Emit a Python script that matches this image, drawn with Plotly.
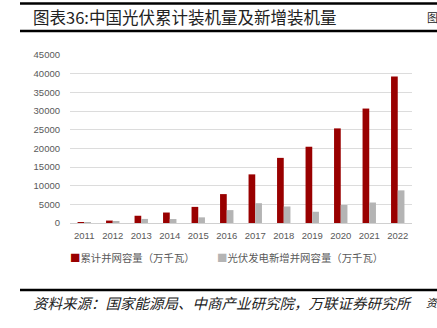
import plotly.graph_objects as go

# 中国光伏累计并网容量与年度新增并网容量（万千瓦）
years = ["2011", "2012", "2013", "2014", "2015", "2016",
         "2017", "2018", "2019", "2020", "2021", "2022"]
cumulative = [222, 650, 1942, 2805, 4318, 7742,
              13025, 17446, 20430, 25343, 30656, 39261]
new_added = [180, 350, 1095, 1060, 1513, 3454,
             5306, 4426, 3011, 4820, 5488, 8741]

y_ticks = [0, 5000, 10000, 15000, 20000, 25000, 30000, 35000, 40000, 45000]

W, H = 437, 328
L, R, T, B = 70, 25, 55, 105
PW, PH = W - L - R, H - T - B

RED = "#990000"
GRAY = "#b4b4b4"
CJK = "Noto Sans CJK SC"


def px(x):
    return (x - L) / PW


def py(y):
    return (H - B - y) / PH


fig = go.Figure()
fig.add_trace(go.Bar(x=years, y=cumulative, name="累计并网容量（万千瓦）",
                     marker=dict(color=RED, line=dict(width=0))))
fig.add_trace(go.Bar(x=years, y=new_added, name="光伏发电新增并网容量（万千瓦）",
                     marker=dict(color=GRAY, line=dict(width=0))))

fig.update_layout(
    width=W, height=H,
    margin=dict(l=L, r=R, t=T, b=B),
    paper_bgcolor="white", plot_bgcolor="white",
    barmode="group", bargap=0.53, bargroupgap=0,
    showlegend=False,
    font=dict(family="Liberation Sans, Arial", color="#595959"),
)
fig.update_xaxes(showgrid=False, showline=False, ticks="",
                 tickfont=dict(size=9.5, color="#595959"),
                 ticklabelstandoff=5)
fig.update_yaxes(range=[0, 45000], tickvals=y_ticks,
                 ticktext=[str(v) for v in y_ticks],
                 showgrid=True, gridcolor="#dcdcdc", gridwidth=1,
                 zeroline=True, zerolinecolor="#d0d0d0", zerolinewidth=1,
                 showline=False, ticks="",
                 tickfont=dict(size=9.5, color="#595959"),
                 ticklabelstandoff=9)

shapes = []
# 标题上下及资料来源上方的粗线
for y0, wdt in [(3.5, 2.5), (31, 2.5), (290, 2.5)]:
    shapes.append(dict(type="line", xref="paper", yref="paper",
                       x0=px(20), x1=px(437), y0=py(y0), y1=py(y0),
                       line=dict(color="black", width=wdt)))
fig.update_layout(shapes=shapes)

ann = []
ann.append(dict(text="图表36:中国光伏累计装机量及新增装机量",
                x=px(31), y=py(17.5), xref="paper", yref="paper",
                xanchor="left", yanchor="middle", showarrow=False,
                font=dict(family=CJK, size=16.5, color="#222222")))
ann.append(dict(text="图", x=px(425), y=py(17.5), xref="paper", yref="paper",
                xanchor="left", yanchor="middle", showarrow=False,
                font=dict(family=CJK, size=11, color="#222222")))
# 图例
ann.append(dict(text=f"<span style='color:{RED}'>■</span>累计并网容量（万千瓦）",
                x=px(68), y=py(257), xref="paper", yref="paper",
                xanchor="left", yanchor="middle", showarrow=False,
                font=dict(family=CJK, size=10.4, color="#595959")))
ann.append(dict(text=f"<span style='color:{GRAY}'>■</span>光伏发电新增并网容量（万千瓦）",
                x=px(215), y=py(257), xref="paper", yref="paper",
                xanchor="left", yanchor="middle", showarrow=False,
                font=dict(family=CJK, size=10.4, color="#595959")))
# 资料来源
ann.append(dict(text="<i>资料来源：国家能源局、中商产业研究院，万联证券研究所</i>",
                x=px(31), y=py(302), xref="paper", yref="paper",
                xanchor="left", yanchor="middle", showarrow=False,
                font=dict(family=CJK, size=14.5, color="#222222")))
ann.append(dict(text="<i>资</i>", x=px(424), y=py(302), xref="paper", yref="paper",
                xanchor="left", yanchor="middle", showarrow=False,
                font=dict(family=CJK, size=11, color="#222222")))
fig.update_layout(annotations=ann)

fig.write_html("out.html")
